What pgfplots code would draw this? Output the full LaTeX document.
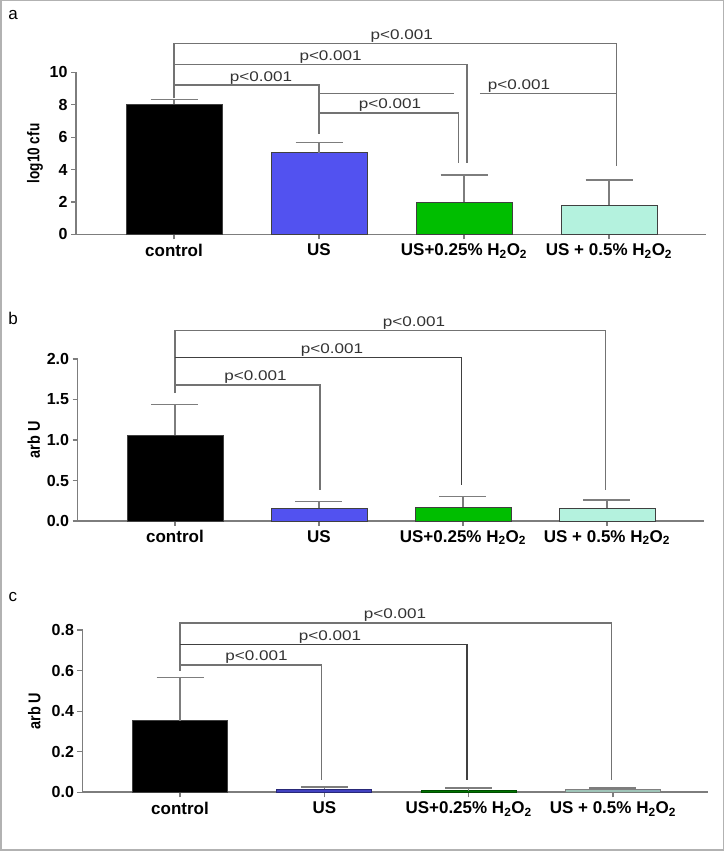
\documentclass[border=0pt]{standalone}
\usepackage{pgfplots}
\pgfplotsset{compat=1.18}
\usepackage{fontspec}
\setmainfont{Liberation Sans}
\definecolor{usblue}{RGB}{82,82,240}
\definecolor{grn}{RGB}{0,190,0}
\definecolor{mint}{RGB}{180,242,222}
\definecolor{axgray}{RGB}{125,125,125}
\definecolor{brgray}{RGB}{115,115,115}
\newcommand{\plab}{\scalebox{1.22}[1]{p<0.001}}
\newcommand{\hh}{H\textsubscript{2}O\textsubscript{2}}
\tikzset{pl/.style={anchor=south, inner sep=1pt, font=\fontsize{14}{16}\selectfont, text=black!80}}
\pgfplotsset{
  panel/.style={
    scale only axis, anchor=south west, clip=false,
    axis x line*=bottom, axis y line*=left,
    axis line style={axgray, line width=1.8pt},
    tick style={axgray, line width=1.2pt},
    tick align=outside, major tick length=5pt,
    xmin=-0.676, ymin=0,
    xtick={0,1,2,3},
    xticklabels={control, US, US+0.25\% \hh, US + 0.5\% \hh},
    xticklabel style={font=\bfseries\fontsize{17}{20}\selectfont, yshift=-1pt},
    yticklabel style={font=\bfseries\fontsize{16}{18}\selectfont},
    ylabel style={font=\bfseries\fontsize{17}{19}\selectfont, anchor=center},
  },
  bar/.style={ybar, bar width=96pt, bar shift=0pt, draw=black!75, line width=0.8pt,
    error bars/y dir=plus, error bars/y explicit,
    error bars/error bar style={axgray, line width=1.5pt},
    error bars/error mark=-,
    error bars/error mark options={rotate=90, axgray, line width=1.5pt, mark size=23.5pt}},
  br/.style={brgray, line width=1.3pt, mark=none},
  brd/.style={black!75, line width=1.4pt, mark=none},
}
\begin{document}
\begin{tikzpicture}
\useasboundingbox (0,0) rectangle (724pt,851pt);
\draw[gray!60, line width=1.5pt] (0.75pt,0.75pt) rectangle (723.25pt,850.25pt);
\node[font=\fontsize{17}{20}\selectfont] at (13pt,836pt) {a};
\node[font=\fontsize{17}{20}\selectfont] at (13pt,533pt) {b};
\node[font=\fontsize{17}{20}\selectfont] at (13pt,254pt) {c};

% ---------------- panel a
\begin{axis}[panel, at={(76pt,616.5pt)}, width=630pt, height=162pt,
  xmax=3.669, ymax=10, ytick={0,2,4,6,8,10}, yticklabels={0,2,4,6,8,10},
  ylabel={\scalebox{0.8}[1]{log10 cfu}},
  ylabel style={at={(axis description cs:-0.065,0.5)}}]
\addplot[bar, fill=black] coordinates {(0,8.05) +- (0,0.28)};
\addplot[bar, fill=usblue] coordinates {(1,5.05) +- (0,0.62)};
\addplot[bar, fill=grn] coordinates {(2,2.0) +- (0,1.68)};
\addplot[bar, fill=mint] coordinates {(3,1.82) +- (0,1.53)};
\addplot[br] coordinates {(0,8.4) (0,11.8) (3.05,11.8) (3.05,4.2)};
\addplot[br] coordinates {(0,10.5) (2.02,10.5) (2.02,4.4)};
\addplot[br, line width=2pt] coordinates {(0,9.2) (1,9.2) (1,6.2)};
\addplot[br] coordinates {(1,7.5) (1.96,7.5) (1.96,4.4)};
\addplot[br] coordinates {(1,8.7) (1.93,8.7)};
\addplot[br] coordinates {(2.11,8.7) (3.05,8.7)};
\node[pl] at (axis cs:1.57,11.8) {\plab};
\node[pl] at (axis cs:1.08,10.5) {\plab};
\node[pl] at (axis cs:0.60,9.2) {\plab};
\node[pl] at (axis cs:1.49,7.5) {\plab};
\node[pl] at (axis cs:2.38,8.7) {\plab};
\end{axis}

% ---------------- panel b
\begin{axis}[panel, at={(77.6pt,330pt)}, width=626.4pt, height=162pt,
  xmax=3.674, ymax=2, ytick={0,0.5,1,1.5,2}, yticklabels={0.0,0.5,1.0,1.5,2.0},
  ylabel={\scalebox{0.85}[1]{arb U}},
  ylabel style={at={(axis description cs:-0.07,0.5)}}]
\addplot[bar, fill=black] coordinates {(0,1.06) +- (0,0.38)};
\addplot[bar, fill=usblue] coordinates {(1,0.16) +- (0,0.08)};
\addplot[bar, fill=grn] coordinates {(2,0.17) +- (0,0.13)};
\addplot[bar, fill=mint] coordinates {(3,0.155) +- (0,0.105)};
\addplot[br] coordinates {(0,1.58) (0,2.35) (2.99,2.35) (2.99,0.38)};
\addplot[brd] coordinates {(0,2.02) (1.99,2.02) (1.99,0.45)};
\addplot[br] coordinates {(0,1.68) (1.007,1.68) (1.007,0.38)};
\node[pl] at (axis cs:1.66,2.35) {\plab};
\node[pl] at (axis cs:1.09,2.02) {\plab};
\node[pl] at (axis cs:0.56,1.68) {\plab};
\end{axis}

% ---------------- panel c
\begin{axis}[panel, at={(82.5pt,58.7pt)}, width=625.5pt, height=162.3pt,
  xmax=3.659, ymax=0.8, ytick={0,0.2,0.4,0.6,0.8}, yticklabels={0.0,0.2,0.4,0.6,0.8},
  ylabel={\scalebox{0.85}[1]{arb U}},
  ylabel style={at={(axis description cs:-0.077,0.5)}}]
\addplot[bar, fill=black, bar width=95pt] coordinates {(0,0.352) +- (0,0.213)};
\addplot[bar, fill=usblue!80!black, draw=usblue!50!black, bar width=95pt] coordinates {(1,0.016) +- (0,0.010)};
\addplot[bar, fill=grn!60!black, draw=grn!40!black, bar width=95pt] coordinates {(2,0.008) +- (0,0.014)};
\addplot[bar, fill=mint!60!gray, draw=gray, bar width=95pt] coordinates {(3,0.014) +- (0,0.008)};
\addplot[br] coordinates {(0,0.60) (0,0.835) (2.99,0.835) (2.99,0.06)};
\addplot[brd] coordinates {(0,0.73) (1.99,0.73) (1.99,0.06)};
\addplot[br] coordinates {(0,0.627) (0.98,0.627) (0.98,0.06)};
\node[pl] at (axis cs:1.49,0.835) {\plab};
\node[pl] at (axis cs:1.04,0.73) {\plab};
\node[pl] at (axis cs:0.53,0.627) {\plab};
\end{axis}
\end{tikzpicture}
\end{document}
